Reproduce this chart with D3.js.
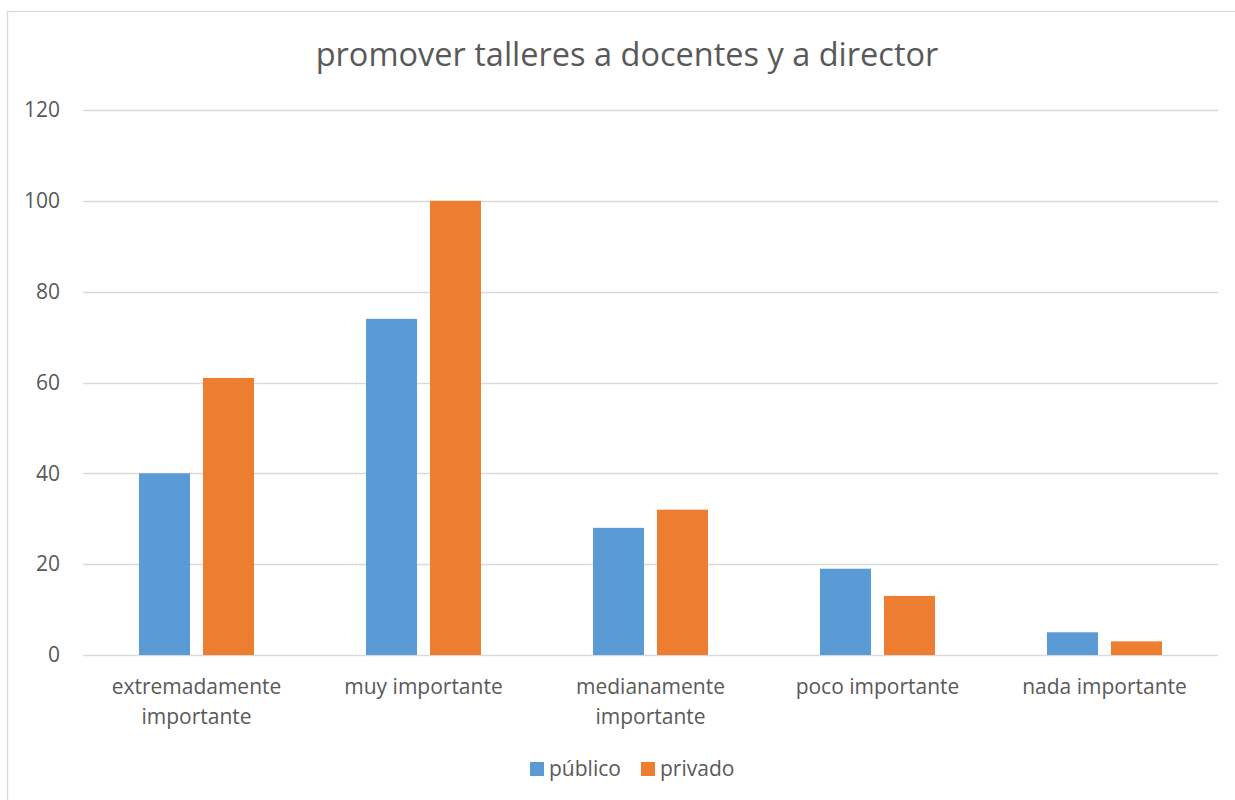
<!DOCTYPE html>
<html>
<head>
<meta charset="utf-8">
<script src="https://cdn.jsdelivr.net/npm/d3@7"></script>
<style>
  body { margin: 0; background: #fff; }
  svg text { font-family: "Open Sans", "Noto Sans", sans-serif; fill: #595959; }
</style>
</head>
<body>
<svg id="chart" width="1235" height="800"></svg>
<script>
// Survey results: importance given to promoting workshops for teachers and principals
const categories = [
  ["extremadamente", "importante"],
  ["muy importante"],
  ["medianamente", "importante"],
  ["poco importante"],
  ["nada importante"]
];
const seriesNames = ["público", "privado"];
const publico = [40, 74, 28, 19, 5];
const privado = [61, 100, 32, 13, 3];
const yTicks = [0, 20, 40, 60, 80, 100, 120];
const colors = ["#5b9bd5", "#ed7d31"];
const title = "promover talleres a docentes y a director";

const svg = d3.select("#chart");
const plot = { left: 83, right: 1218, top: 110, bottom: 655 };
const fontFamily = "'Open Sans', 'Noto Sans', sans-serif";
const labelSize = 21;

// chart frame
svg.append("rect")
  .attr("x", 7.5).attr("y", 11.5)
  .attr("width", 1240).attr("height", 800)
  .attr("fill", "#fff").attr("stroke", "#d9d9d9").attr("stroke-width", 1.3);

const catKeys = categories.map(c => c.join(" "));
const x0 = d3.scaleBand().domain(catKeys).range([plot.left, plot.right]).paddingInner(0).paddingOuter(0);
const groupWidth = 115;
const x1 = d3.scaleBand().domain(seriesNames).range([0, groupWidth]).paddingInner(13 / 64).paddingOuter(0);
const y = d3.scaleLinear().domain([0, 120]).range([plot.bottom, plot.top]);

// gridlines
svg.append("g")
  .selectAll("line").data(yTicks).join("line")
  .attr("x1", plot.left).attr("x2", plot.right)
  .attr("y1", d => Math.round(y(d)) + 0.5).attr("y2", d => Math.round(y(d)) + 0.5)
  .attr("stroke", "#d9d9d9").attr("stroke-width", 1.3);

// y axis labels
const yAxis = d3.axisLeft(y).tickValues(yTicks).tickSize(0).tickPadding(0);
const gy = svg.append("g").attr("transform", `translate(${60},0)`).call(yAxis);
gy.select(".domain").remove();
gy.selectAll("text").attr("font-size", labelSize).attr("fill", "#595959")
  .attr("font-family", fontFamily);

// bars
const series = [publico, privado];
const groups = svg.append("g").selectAll("g").data(catKeys).join("g")
  .attr("transform", d => `translate(${x0(d) + (x0.bandwidth() - groupWidth) / 2},0)`);
groups.selectAll("rect")
  .data((d, i) => seriesNames.map((s, k) => ({ s, v: series[k][i], k })))
  .join("rect")
  .attr("x", d => x1(d.s))
  .attr("width", x1.bandwidth())
  .attr("y", d => y(d.v))
  .attr("height", d => y(0) - y(d.v))
  .attr("fill", d => colors[d.k]);

// category labels
const labels = svg.append("g").selectAll("text").data(categories).join("text")
  .attr("x", (d, i) => x0(catKeys[i]) + x0.bandwidth() / 2)
  .attr("y", 694)
  .attr("text-anchor", "middle")
  .attr("font-size", labelSize);
labels.selectAll("tspan").data(d => d).join("tspan")
  .attr("x", function () { return this.parentNode.getAttribute("x"); })
  .attr("dy", (d, i) => i === 0 ? 0 : 30)
  .text(d => d);

// title
svg.append("text")
  .attr("x", 627).attr("y", 66)
  .attr("text-anchor", "middle")
  .attr("font-size", 32.5)
  .text(title);

// legend
const legendItems = [
  { name: "público", color: colors[0], x: 530 },
  { name: "privado", color: colors[1], x: 641 }
];
const lg = svg.append("g").selectAll("g").data(legendItems).join("g")
  .attr("transform", d => `translate(${d.x},762)`);
lg.append("rect").attr("width", 14).attr("height", 14).attr("fill", d => d.color);
lg.append("text").attr("x", 19).attr("y", 14).attr("font-size", labelSize).text(d => d.name);
</script>
</body>
</html>
